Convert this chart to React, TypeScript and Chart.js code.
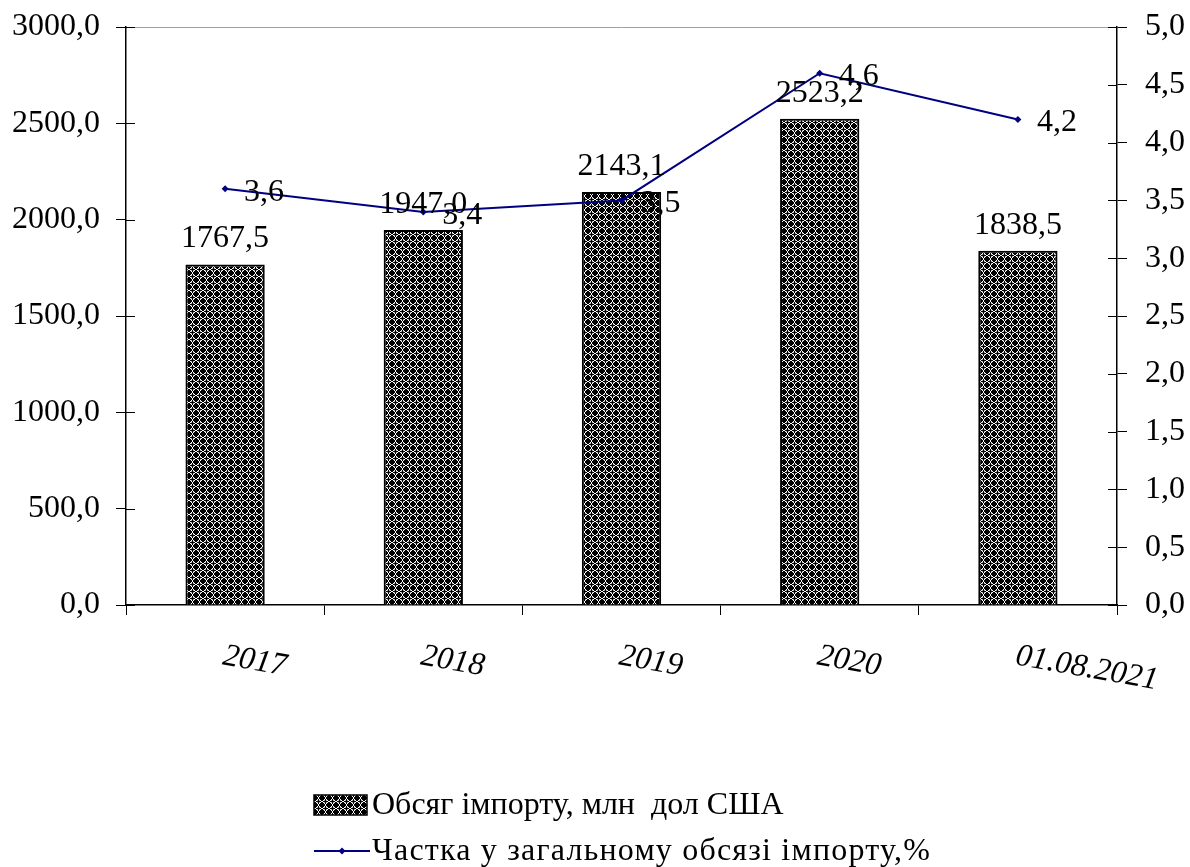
import React, { useEffect, useRef } from "react";
import { Chart, registerables } from "chart.js";

Chart.register(...registerables);

const categories = ["2017", "2018", "2019", "2020", "01.08.2021"];
const importVolume = [1767.5, 1947.0, 2143.1, 2523.2, 1838.5];
const importShare = [3.6, 3.4, 3.5, 4.6, 4.2];
const seriesNames = ["Обсяг імпорту, млн  дол США", "Частка у загальному обсязі імпорту,%"];
const leftAxis = { min: 0, max: 3000, step: 500 };
const rightAxis = { min: 0, max: 5, step: 0.5 };

const FONT = "Liberation Serif, 'Times New Roman', serif";
const NAVY = "#000080";

const fmt = (v: number) => v.toFixed(1).replace(".", ",");

function makePattern(): CanvasPattern | string {
  const n = 7;
  const tile = document.createElement("canvas");
  tile.width = n;
  tile.height = n;
  const c = tile.getContext("2d");
  if (!c) return "#444";
  c.fillStyle = "#000";
  c.fillRect(0, 0, n, n);
  for (let x = 0; x < n; x++) {
    for (let y = 0; y < n; y++) {
      const d = Math.abs(x - 3) + Math.abs(y - 3);
      if (d === 3) {
        c.fillStyle = "#ffffff";
        c.fillRect(x, y, 1, 1);
      } else if (d === 2 && x !== 3 && y !== 3) {
        c.fillStyle = "#a8a8a8";
        c.fillRect(x, y, 1, 1);
      }
    }
  }
  const main = document.createElement("canvas").getContext("2d");
  const p = main ? main.createPattern(tile, "repeat") : null;
  return p || "#444";
}

const fitY = (w: number) => (s: any) => {
  s.width = w;
  s.paddingTop = 0;
  s.paddingBottom = 0;
};

export default function App() {
  const ref = useRef<HTMLCanvasElement | null>(null);

  useEffect(() => {
    const canvas = ref.current;
    if (!canvas) return;
    const pattern = makePattern();

    const customPlugin = {
      id: "customDraw",
      afterDraw(chart: any) {
        const ctx = chart.ctx as CanvasRenderingContext2D;
        const area = chart.chartArea;
        const xs = chart.scales.x;
        const y = chart.scales.y;
        const y1 = chart.scales.y1;
        ctx.save();
        // top gray border
        ctx.strokeStyle = "#a0a0a0";
        ctx.lineWidth = 1;
        ctx.beginPath();
        ctx.moveTo(area.left, area.top + 0.5);
        ctx.lineTo(area.right, area.top + 0.5);
        ctx.stroke();
        // inner halves of cross ticks
        ctx.strokeStyle = "#000";
        ctx.beginPath();
        for (let v = leftAxis.min; v <= leftAxis.max; v += leftAxis.step) {
          const py = Math.round(y.getPixelForValue(v)) + 0.5;
          ctx.moveTo(area.left, py);
          ctx.lineTo(area.left + 9, py);
        }
        for (let v = rightAxis.min; v <= rightAxis.max + 1e-9; v += rightAxis.step) {
          const py = Math.round(y1.getPixelForValue(v)) + 0.5;
          ctx.moveTo(area.right - 9, py);
          ctx.lineTo(area.right, py);
        }
        ctx.stroke();

        // x labels rotated clockwise
        ctx.fillStyle = "#000";
        ctx.font = `italic 32px ${FONT}`;
        ctx.textAlign = "left";
        ctx.textBaseline = "middle";
        categories.forEach((label, i) => {
          const px = xs.getPixelForValue(i);
          ctx.save();
          ctx.translate(px - 2, area.bottom + 51);
          ctx.rotate((10 * Math.PI) / 180);
          ctx.fillText(label, 0, 0);
          ctx.restore();
        });

        // data labels
        ctx.font = `32px ${FONT}`;
        ctx.textBaseline = "alphabetic";
        const barMeta = chart.getDatasetMeta(0);
        barMeta.data.forEach((el: any, i: number) => {
          ctx.textAlign = "center";
          ctx.fillText(fmt(importVolume[i]), el.x, el.y - 17);
        });
        const lineMeta = chart.getDatasetMeta(1);
        lineMeta.data.forEach((el: any, i: number) => {
          ctx.textAlign = "left";
          ctx.fillText(fmt(importShare[i]), el.x + 19, el.y + 12);
        });

        // legend
        const lx = 314;
        const ly1 = 805;
        const ly2 = 851;
        ctx.fillStyle = pattern as any;
        ctx.fillRect(lx, ly1 - 10, 53, 20);
        ctx.strokeStyle = "#000";
        ctx.lineWidth = 1.5;
        ctx.strokeRect(lx, ly1 - 10, 53, 20);
        ctx.strokeStyle = NAVY;
        ctx.lineWidth = 2;
        ctx.beginPath();
        ctx.moveTo(lx, ly2);
        ctx.lineTo(lx + 56, ly2);
        ctx.stroke();
        ctx.fillStyle = NAVY;
        ctx.beginPath();
        ctx.moveTo(lx + 28, ly2 - 3.5);
        ctx.lineTo(lx + 31.5, ly2);
        ctx.lineTo(lx + 28, ly2 + 3.5);
        ctx.lineTo(lx + 24.5, ly2);
        ctx.closePath();
        ctx.fill();
        ctx.fillStyle = "#000";
        ctx.font = `32px ${FONT}`;
        ctx.textAlign = "left";
        ctx.textBaseline = "middle";
        ctx.fillText(seriesNames[0], lx + 58, ly1 + 1);
        (ctx as any).letterSpacing = "1.2px";
        ctx.fillText(seriesNames[1], lx + 58, ly2 + 1);
        (ctx as any).letterSpacing = "0px";
        ctx.restore();
      },
    };

    const chart = new Chart(canvas, {
      type: "bar",
      data: {
        labels: categories,
        datasets: [
          {
            type: "bar",
            label: seriesNames[0],
            data: importVolume,
            backgroundColor: pattern as any,
            borderColor: "#000",
            borderWidth: 2,
            barPercentage: 0.4,
            categoryPercentage: 1,
            yAxisID: "y",
            order: 2,
          },
          {
            type: "line",
            label: seriesNames[1],
            data: importShare,
            borderColor: NAVY,
            backgroundColor: NAVY,
            borderWidth: 2,
            pointStyle: "rectRot",
            pointRadius: 3.5,
            pointBorderWidth: 0,
            tension: 0,
            yAxisID: "y1",
            order: 1,
          } as any,
        ],
      },
      options: {
        responsive: false,
        animation: false,
        devicePixelRatio: 1,
        layout: { padding: { top: 27, left: 0, right: 0, bottom: 0 } },
        plugins: { legend: { display: false }, tooltip: { enabled: false } },
        scales: {
          x: {
            type: "category",
            ticks: { display: false },
            grid: { drawOnChartArea: false, tickLength: 10, color: "#000", offset: true },
            border: { color: "#000", width: 1.5 },
            afterFit: (s: any) => {
              s.height = 262;
            },
          },
          y: {
            type: "linear",
            position: "left",
            min: leftAxis.min,
            max: leftAxis.max,
            ticks: {
              stepSize: leftAxis.step,
              callback: (v: any) => fmt(Number(v)),
              color: "#000",
              font: { family: FONT, size: 32 },
              padding: 16,
            },
            grid: { drawOnChartArea: false, tickLength: 10, color: "#000" },
            border: { color: "#000", width: 1.5 },
            afterFit: fitY(126),
          },
          y1: {
            type: "linear",
            position: "right",
            min: rightAxis.min,
            max: rightAxis.max,
            ticks: {
              stepSize: rightAxis.step,
              callback: (v: any) => fmt(Number(v)),
              color: "#000",
              font: { family: FONT, size: 32 },
              padding: 18,
            },
            grid: { drawOnChartArea: false, tickLength: 10, color: "#000" },
            border: { color: "#000", width: 1.5 },
            afterFit: fitY(73),
          },
        },
      } as any,
      plugins: [customPlugin],
    });

    return () => chart.destroy();
  }, []);

  return (
    <div style={{ position: "fixed", left: 0, top: 0, width: 1190, height: 867, background: "#fff" }}>
      <canvas ref={ref} width={1190} height={867} style={{ display: "block" }} />
    </div>
  );
}
